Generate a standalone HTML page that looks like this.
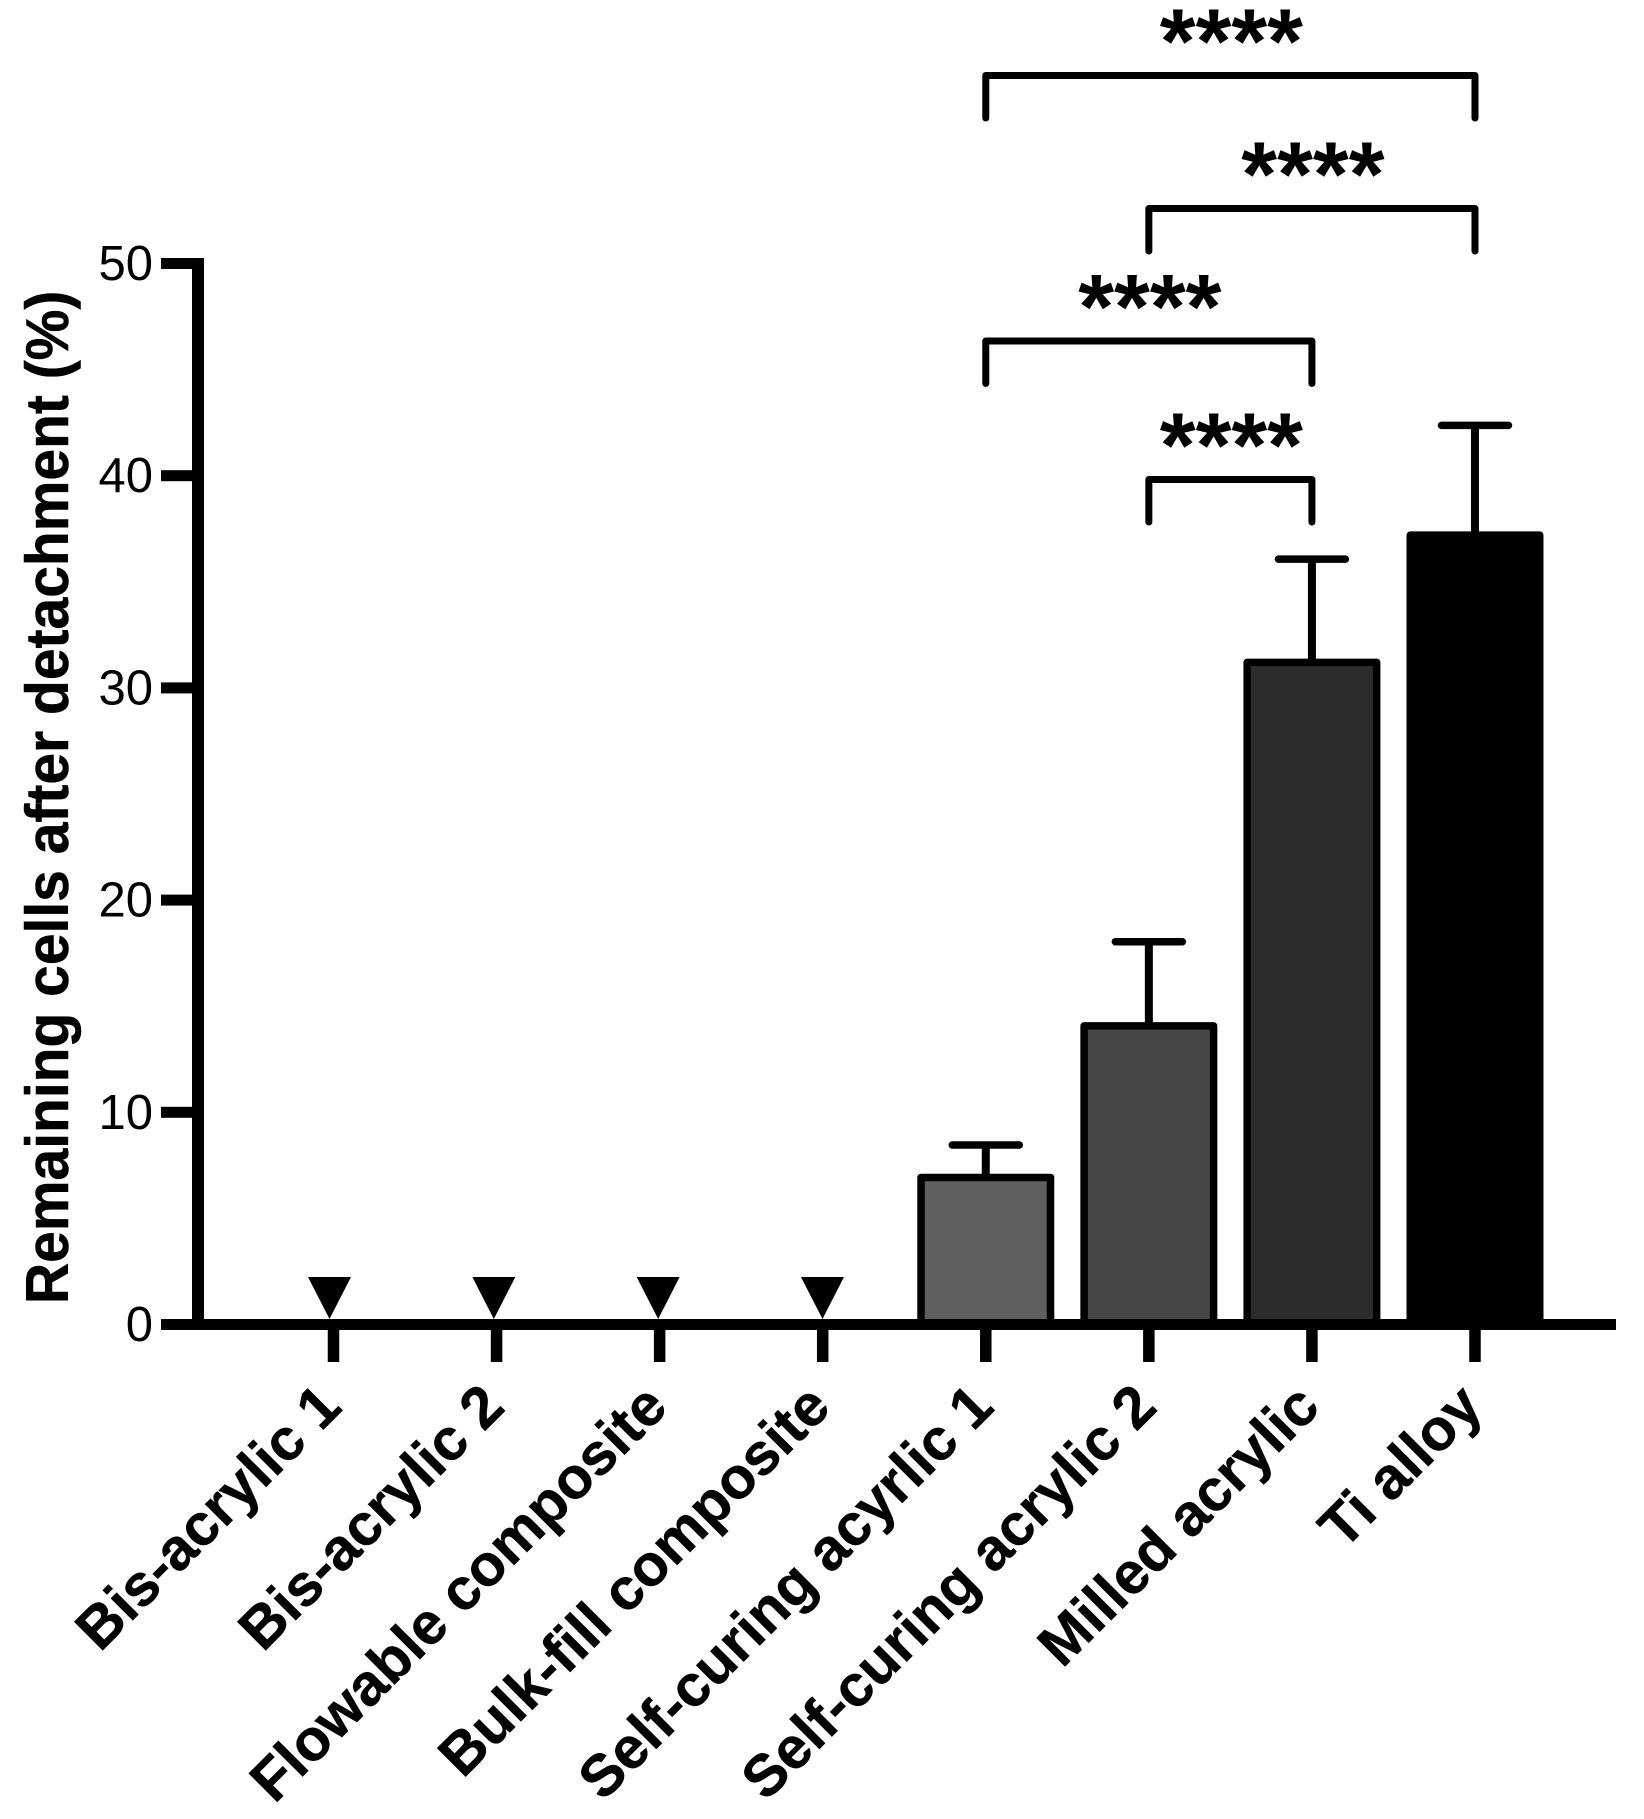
<!DOCTYPE html>
<html lang="en">
<head>
<meta charset="utf-8">
<title>Remaining cells after detachment</title>
<style>
  html, body { margin: 0; padding: 0; background: #fff; }
  svg { display: block; font-family: "Liberation Sans", Arial, sans-serif; }
</style>
</head>
<body>
<svg id="chart" xmlns="http://www.w3.org/2000/svg" width="1644" height="1819" viewBox="0 0 1644 1819">
  <rect x="0" y="0" width="1644" height="1819" fill="#ffffff"/>
  <text transform="translate(68 1304) rotate(-90) scale(1 1.06)" font-size="57" font-weight="700" fill="#000" stroke="#000" stroke-width="0.5">Remaining cells after detachment (%)</text>
</svg>
<script>
const categories = ["Bis-acrylic 1", "Bis-acrylic 2", "Flowable composite", "Bulk-fill composite", "Self-curing acyrlic 1", "Self-curing acrylic 2", "Milled acrylic", "Ti alloy"];
const meanValues = [0, 0, 0, 0, 6.93, 14.07, 31.2, 37.2];
const errorValues = [0, 0, 0, 0, 1.53, 3.97, 4.87, 5.17];
const barFills = ["#000000", "#000000", "#000000", "#000000", "#5f5f5f", "#464646", "#2c2c2c", "#000000"];
const yTickValues = [0, 10, 20, 30, 40, 50];
const yTickLabels = ["0", "10", "20", "30", "40", "50"];
const bracketFrom = [4, 5, 4, 5];
const bracketTo = [7, 7, 6, 6];
const bracketLabels = ["****", "****", "****", "****"];
const bracketLevels = [58.86, 52.59, 46.35, 39.82];

const NS = "http://www.w3.org/2000/svg";
const svg = document.getElementById("chart");

function xScale(i) { return 333.5 + 163.07 * i; }
function markerX(i) { return 329.5 + 164.33 * i; }
function yScale(v) { return 1324.5 - 21.22 * v; }

function make(tag, attrs, text) {
  const el = document.createElementNS(NS, tag);
  for (const k in attrs) el.setAttribute(k, attrs[k]);
  if (text !== undefined) el.textContent = text;
  svg.appendChild(el);
  return el;
}

/* y axis */
const yAxisLine = make("rect", { x: 192, y: yScale(50) - 5.5, width: 12, height: yScale(0) - yScale(50) + 11, fill: "#000" });



yTickValues.forEach(function (v, i) {
  const tick = make("rect", { x: 161, y: yScale(v) - 5.5, width: 32, height: 11, fill: "#000" });
  
  
  const label = make("text", { x: 153, y: yScale(v) + 16.5, "text-anchor": "end", "font-size": 49, fill: "#000" }, yTickLabels[i]);
  
  
});

/* error bars, then bars */
categories.forEach(function (c, i) {
  const v = meanValues[i];
  const cx = xScale(i);
  if (v > 0) {
    const top = yScale(v + errorValues[i]);
    const stem = make("line", { x1: cx, x2: cx, y1: yScale(v), y2: top, stroke: "#000", "stroke-width": 8 });
    
    
    const cap = make("line", { x1: cx - 33.5, x2: cx + 33.5, y1: top, y2: top, stroke: "#000", "stroke-width": 7.5, "stroke-linecap": "round" });
    
    
    const bar = make("rect", { x: cx - 64.75, y: yScale(v), width: 129.5, height: yScale(0) - yScale(v), fill: barFills[i], stroke: "#000", "stroke-width": 7.5, "stroke-linejoin": "round" });
    
    
  } else {
    const mx = markerX(i);
    const y0 = yScale(v) - 5.5;
    const tri = make("polygon", { points: (mx - 21.5) + "," + (y0 - 42) + " " + (mx + 21.5) + "," + (y0 - 42) + " " + mx + "," + y0, fill: "#000" });
    
    
  }
});

/* x axis */
const xAxisLine = make("rect", { x: 161, y: yScale(0) - 5.5, width: 1455, height: 11, fill: "#000" });



categories.forEach(function (c, i) {
  const cx = xScale(i);
  const tick = make("rect", { x: cx - 5.75, y: yScale(0) + 5.5, width: 11.5, height: 32, fill: "#000" });
  
  
  const label = make("text", { transform: "translate(" + (cx + 10.2) + " 1409.3) rotate(-45)", "text-anchor": "end", "font-size": 58.5, "font-weight": 700, fill: "#000", stroke: "#000", "stroke-width": 0.5 }, c);
  
  
});

/* significance brackets */
bracketFrom.forEach(function (from, i) {
  const x1 = xScale(from);
  const x2 = xScale(bracketTo[i]);
  const yTop = yScale(bracketLevels[i]);
  const path = make("path", { d: "M" + x1 + " " + (yTop + 42.5) + " V" + yTop + " H" + x2 + " V" + (yTop + 42.5), fill: "none", stroke: "#000", "stroke-width": 7, "stroke-linecap": "round", "stroke-linejoin": "round" });
  
  
  const stars = make("text", { x: (x1 + x2) / 2 + 1, y: yTop - 2.5, "text-anchor": "middle", "font-size": 92, "font-weight": 700, fill: "#000" }, bracketLabels[i]);
  
  
});
</script>
</body>
</html>
